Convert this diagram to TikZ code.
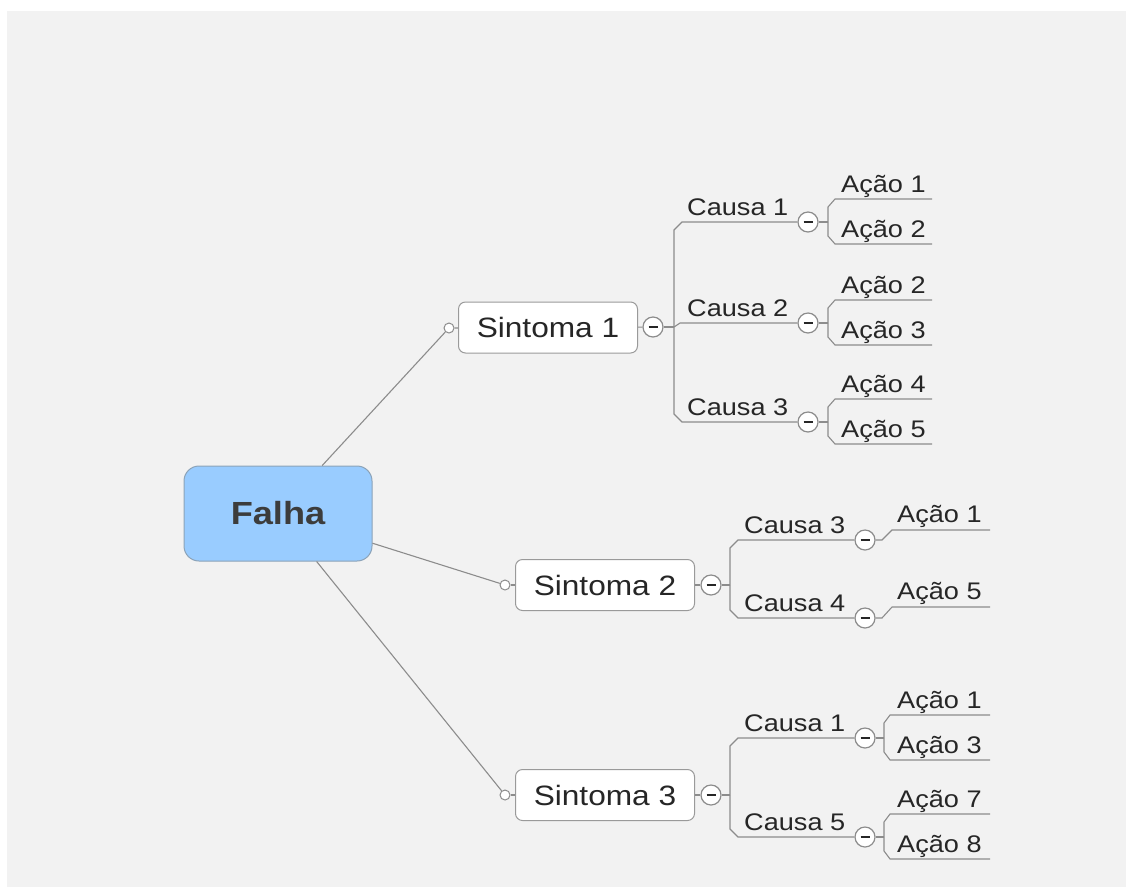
\documentclass[tikz,border=0pt]{standalone}
\usepackage{fontspec}
\setmainfont{Liberation Sans}
\usepackage{graphicx}
\definecolor{bg}{HTML}{F2F2F2}
\definecolor{wire}{HTML}{8C8C8C}
\definecolor{rim}{HTML}{9A9A9A}
\definecolor{rootfill}{HTML}{99CCFF}
\definecolor{rootrim}{HTML}{8CA3B8}
\definecolor{ink}{HTML}{262626}
% text in the map is set a little wider than the font's own width
\newcommand\stretched[1]{\scalebox{1.13}[1]{#1}}

\begin{document}
\begin{tikzpicture}[x=1pt,y=-1pt,
  link/.style={draw=wire, line width=1.1pt},
  rootbox/.style={draw=rootrim, fill=rootfill, rounded corners=15pt, line width=1pt,
    minimum width=188pt, minimum height=95pt,
    font=\fontsize{32}{32}\selectfont\bfseries, text=ink!90},
  topicbox/.style={draw=rim, fill=white, rounded corners=7pt, line width=1pt,
    minimum width=179pt, minimum height=51pt,
    font=\fontsize{28}{28}\selectfont, text=ink},
  leaf/.style={anchor=base west, inner sep=0pt, font=\fontsize{24}{24}\selectfont, text=ink},
  knob/.style={circle, draw=wire, fill=white, line width=1pt, minimum size=10pt, inner sep=0pt},
  fold/.style={circle, draw=wire, fill=white, line width=1.2pt, minimum size=20pt, inner sep=0pt,
    path picture={\draw[ink, line width=2pt]
      ([xshift=-4.5pt]path picture bounding box.center) -- ([xshift=4.5pt]path picture bounding box.center);}},
]
% canvas
\useasboundingbox (0,0) rectangle (1126,887);
\fill[white] (0,0) rectangle (1126,887);
\fill[bg] (7,11) rectangle (1126,887);

% central topic and main branches
\node[rootbox] (falha) at (278,513.5) {\stretched{Falha}};

\node[topicbox] (s1) at (548,327.5) {\stretched{Sintoma 1}};
\node[topicbox] (s2) at (605,585) {\stretched{Sintoma 2}};
\node[topicbox] (s3) at (605,795) {\stretched{Sintoma 3}};

\node[knob] (k1) at (449,328) {};
\node[knob] (k2) at (505,585) {};
\node[knob] (k3) at (505,795) {};

\node[fold] (f1) at (653,327) {};
\node[fold] (f2) at (711,585) {};
\node[fold] (f3) at (711,795) {};

\draw[link] (falha) -- (k1);
\draw[link] (falha) -- (k2);
\draw[link] (falha) -- (k3);
\draw[link] (k1) -- (s1);
\draw[link] (k2) -- (s2);
\draw[link] (k3) -- (s3);
\draw[link] (s1) -- (f1);
\draw[link] (s2) -- (f2);
\draw[link] (s3) -- (f3);

% ---------- Sintoma 1 ----------
\coordinate (j1) at (674,327);
\draw[link] (f1) -- (j1);

\node[leaf] (c11) at (687,215) {\stretched{Causa 1}};
\node[leaf] (c12) at (687,316) {\stretched{Causa 2}};
\node[leaf] (c13) at (687,415) {\stretched{Causa 3}};
\node[fold] (c11f) at (808,222) {};
\node[fold] (c12f) at (808,323) {};
\node[fold] (c13f) at (808,422) {};

\draw[link] (j1) -- (674,230) -- (682,222) -- (c11f);
\draw[link] (j1) -- (680,323) -- (c12f);
\draw[link] (j1) -- (674,414) -- (682,422) -- (c13f);

% actions of Causa 1
\coordinate (b11) at (828,222);
\coordinate (e111) at (932,199);
\coordinate (e112) at (932,244);
\draw[link] (c11f) -- (b11);
\draw[link] (b11) -- (828,207) -- (835,199) -- (e111);
\draw[link] (b11) -- (828,236) -- (835,244) -- (e112);
\node[leaf] (a111) at (841,192) {\stretched{Ação 1}};
\node[leaf] (a112) at (841,237) {\stretched{Ação 2}};

% actions of Causa 2
\coordinate (b12) at (828,323);
\coordinate (e121) at (932,300);
\coordinate (e122) at (932,345);
\draw[link] (c12f) -- (b12);
\draw[link] (b12) -- (828,308) -- (835,300) -- (e121);
\draw[link] (b12) -- (828,337) -- (835,345) -- (e122);
\node[leaf] (a121) at (841,293) {\stretched{Ação 2}};
\node[leaf] (a122) at (841,338) {\stretched{Ação 3}};

% actions of Causa 3
\coordinate (b13) at (828,422);
\coordinate (e131) at (932,399);
\coordinate (e132) at (932,444);
\draw[link] (c13f) -- (b13);
\draw[link] (b13) -- (828,407) -- (835,399) -- (e131);
\draw[link] (b13) -- (828,436) -- (835,444) -- (e132);
\node[leaf] (a131) at (841,392) {\stretched{Ação 4}};
\node[leaf] (a132) at (841,437) {\stretched{Ação 5}};

% ---------- Sintoma 2 ----------
\coordinate (j2) at (730,585);
\draw[link] (f2) -- (j2);

\node[leaf] (c21) at (744,533) {\stretched{Causa 3}};
\node[leaf] (c22) at (744,611) {\stretched{Causa 4}};
\node[fold] (c21f) at (865,540) {};
\node[fold] (c22f) at (865,618) {};

\draw[link] (j2) -- (730,548) -- (738,540) -- (c21f);
\draw[link] (j2) -- (730,610) -- (738,618) -- (c22f);

\coordinate (e211) at (990,530);
\coordinate (e221) at (990,607);
\draw[link] (c21f) -- (882,540) -- (892,530) -- (e211);
\draw[link] (c22f) -- (882,618) -- (892,607) -- (e221);
\node[leaf] (a211) at (897,522) {\stretched{Ação 1}};
\node[leaf] (a221) at (897,599) {\stretched{Ação 5}};

% ---------- Sintoma 3 ----------
\coordinate (j3) at (730,795);
\draw[link] (f3) -- (j3);

\node[leaf] (c31) at (744,731) {\stretched{Causa 1}};
\node[leaf] (c32) at (744,830) {\stretched{Causa 5}};
\node[fold] (c31f) at (865,738) {};
\node[fold] (c32f) at (865,837) {};

\draw[link] (j3) -- (730,746) -- (738,738) -- (c31f);
\draw[link] (j3) -- (730,829) -- (738,837) -- (c32f);

% actions of Causa 1
\coordinate (b31) at (884,738);
\coordinate (e311) at (990,715);
\coordinate (e312) at (990,760);
\draw[link] (c31f) -- (b31);
\draw[link] (b31) -- (884,723) -- (890,715) -- (e311);
\draw[link] (b31) -- (884,752) -- (890,760) -- (e312);
\node[leaf] (a311) at (897,708) {\stretched{Ação 1}};
\node[leaf] (a312) at (897,753) {\stretched{Ação 3}};

% actions of Causa 5
\coordinate (b32) at (884,837);
\coordinate (e321) at (990,814);
\coordinate (e322) at (990,859);
\draw[link] (c32f) -- (b32);
\draw[link] (b32) -- (884,822) -- (890,814) -- (e321);
\draw[link] (b32) -- (884,851) -- (890,859) -- (e322);
\node[leaf] (a321) at (897,807) {\stretched{Ação 7}};
\node[leaf] (a322) at (897,852) {\stretched{Ação 8}};
\end{tikzpicture}
\end{document}
